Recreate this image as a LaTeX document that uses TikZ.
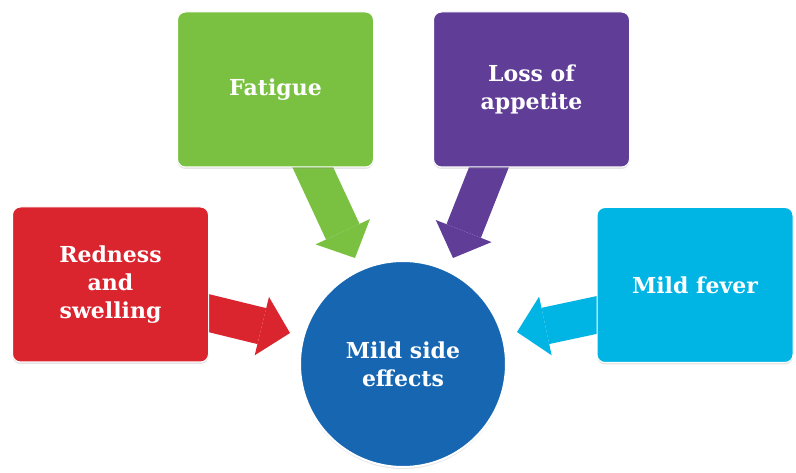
\documentclass[tikz,border=0pt]{standalone}
\usepackage{fontspec}
\setmainfont{DejaVu Serif}
\usetikzlibrary{arrows.meta,shadows}
\pgfdeclarelayer{bg}
\pgfsetlayers{bg,main}
\definecolor{cred}{RGB}{218,36,46}
\definecolor{cgreen}{RGB}{122,193,66}
\definecolor{cpurple}{RGB}{96,62,152}
\definecolor{ccyan}{RGB}{0,180,228}
\definecolor{cblue}{RGB}{22,102,178}
\begin{document}
\begin{tikzpicture}[x=1pt,y=-1pt,
  box/.style={rounded corners=8pt, minimum width=196pt, minimum height=155pt,
    inner sep=0pt, text=white, align=center, draw=white, line width=1pt,
    font=\bfseries\fontsize{22}{28}\selectfont,
    drop shadow={opacity=0.2, shadow xshift=0pt, shadow yshift=-2pt}},
  hub/.style={circle, minimum size=206pt, inner sep=0pt, text=white, align=center,
    draw=white, line width=2pt, font=\bfseries\fontsize{22}{28}\selectfont,
    drop shadow={opacity=0.2, shadow xshift=0pt, shadow yshift=-2pt}},
  bigarrow/.style={line width=37pt, -{Triangle[width=60pt,length=29pt,line width=0pt 0]}}]
\useasboundingbox (0,0) rectangle (796,473);
\node[box, fill=cred] (red) at (110.5,284.5) {Redness\\and\\swelling};
\node[box, fill=cgreen] (green) at (275.5,89.5) {Fatigue};
\node[box, fill=cpurple] (purple) at (531.5,89.5) {Loss of\\appetite};
\node[box, fill=ccyan] (cyan) at (695,285) {Mild fever};
\node[hub, fill=cblue] (hub) at (403,364) {Mild side\\effects};
\coordinate (rs) at (200,311);
\coordinate (re) at (290,333);
\coordinate (gs) at (308,157);
\coordinate (ge) at (355,258);
\coordinate (ps) at (493,157);
\coordinate (pe) at (453,258);
\coordinate (cs) at (606,313);
\coordinate (ce) at (517,332);
\begin{pgfonlayer}{bg}
\fill[white] (0,0) rectangle (796,473);
\draw[bigarrow, cred] (rs) -- (re);
\draw[bigarrow, cgreen] (gs) -- (ge);
\draw[bigarrow, cpurple] (ps) -- (pe);
\draw[bigarrow, ccyan] (cs) -- (ce);
\end{pgfonlayer}
\end{tikzpicture}
\end{document}
